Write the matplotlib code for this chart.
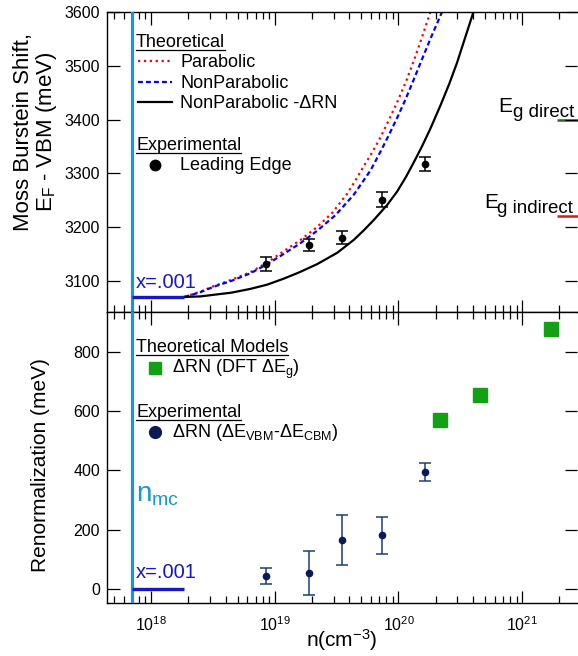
import matplotlib
matplotlib.use('Agg')
import numpy as np
import matplotlib.pyplot as plt
from matplotlib.lines import Line2D
from matplotlib.ticker import NullFormatter

plt.rcParams['font.family'] = ['Liberation Sans', 'DejaVu Sans']
plt.rcParams['mathtext.fontset'] = 'custom'
plt.rcParams['mathtext.rm'] = 'Liberation Sans'
plt.rcParams['mathtext.it'] = 'Liberation Sans:italic'
plt.rcParams['mathtext.bf'] = 'Liberation Sans:bold'

# --- data ---
# theoretical Moss-Burstein curves (log10 n, meV)
logn_par = [18.27, 18.4, 18.506, 18.65, 18.803, 18.938, 19.072, 19.207, 19.342, 19.463,
            19.585, 19.65, 19.719, 19.79, 19.853, 19.92, 19.989, 20.06, 20.13, 20.19, 20.258]
E_par = [3070, 3080, 3090, 3102, 3116, 3134, 3155, 3176, 3200, 3226,
         3262, 3286, 3313, 3340, 3366, 3398, 3432, 3470, 3513, 3553, 3600]

logn_nonpar = [18.27, 18.4, 18.506, 18.65, 18.803, 18.938, 19.072, 19.207, 19.342, 19.49,
               19.638, 19.773, 19.854, 19.92, 19.989, 20.056, 20.123, 20.19, 20.258, 20.352]
E_nonpar = [3070, 3079, 3089, 3100, 3114, 3131, 3150, 3170, 3193, 3222,
            3260, 3305, 3340, 3370, 3403, 3437, 3474, 3512, 3550, 3600]

logn_nonpar_rn = [18.27, 18.4, 18.506, 18.65, 18.803, 18.94, 19.072, 19.2, 19.342, 19.504,
                  19.638, 19.72, 19.8, 19.908, 19.989, 20.06, 20.123, 20.19, 20.258, 20.339,
                  20.41, 20.474, 20.54, 20.595, 20.606]
E_nonpar_rn = [3070, 3071, 3074, 3078, 3085, 3093, 3104, 3116, 3131, 3152,
               3176, 3194, 3213, 3241, 3266, 3293, 3320, 3350, 3383, 3426,
               3466, 3506, 3553, 3592, 3600]

# experimental leading edge
n_exp = [8.5e18, 1.9e19, 3.5e19, 7.4e19, 1.63e20]
E_exp = [3132, 3167, 3180, 3251, 3318]
E_exp_err = [13, 11, 12, 14, 13]

# renormalization
rn_exp = [43, 54, 165, 180, 395]
rn_exp_err = [27, 75, 84, 62, 30]
n_dft = [2.17e20, 4.57e20, 1.7e21]
rn_dft = [568, 654, 876]

n_mc = 7.05e17
n_x001 = 1.86e18
E_x001 = 3070
Eg_direct = 3400
Eg_indirect = 3220
n_eg_start = 1.93e21

yticks_top = [3100, 3200, 3300, 3400, 3500, 3600]
yticks_bot = [0, 200, 400, 600, 800]

W, H = 578, 656
fig = plt.figure(figsize=(W / 100, H / 100), dpi=100)


def fx(px):
    return px / W


def fy(py):
    return 1 - py / H


L = fx(107)
R = fx(576.5)
ax1 = fig.add_axes([L, fy(312), R - L, 300 / H])
ax2 = fig.add_axes([L, fy(603), R - L, 291 / H], sharex=ax1)

ax1.set_xscale('log')
ax1.set_xlim(4.4e17, 2.75e21)
ax1.set_ylim(3042, 3600)
ax1.set_yticks(yticks_top)
ax2.set_ylim(-48, 934)
ax2.set_yticks(yticks_bot)

# top panel
ax1.plot(10 ** np.array(logn_par), E_par, color='red', ls=':', lw=1.6)
ax1.plot(10 ** np.array(logn_nonpar), E_nonpar, color='#0000ff', lw=1.6, dashes=(2.2, 1.4))
ax1.plot(10 ** np.array(logn_nonpar_rn), E_nonpar_rn, color='black', lw=1.6)
ax1.errorbar(n_exp, E_exp, yerr=E_exp_err, fmt='o', color='black', ms=4.5,
             capsize=4.5, elinewidth=1.1, capthick=1.1)
ax1.hlines(E_x001, n_mc, n_x001, color='#1717c8', lw=2.4, zorder=4)
ax1.text(fx(136), fy(288), 'x=.001', transform=fig.transFigure, color='#1717c8',
         fontsize=14.5, va='baseline')
ax1.hlines(Eg_direct, n_eg_start, 3.5e21, color='#1e6e1e', lw=1.8, clip_on=False)
ax1.hlines(Eg_indirect, n_eg_start, 3.5e21, color='#d81c1c', lw=1.8, clip_on=False)

ax1.set_ylabel('Moss Burstein Shift,\n$\\mathregular{E_F}$ - VBM (meV)', fontsize=16,
               linespacing=1.0)
ax1.yaxis.set_label_coords((59 - 107) / 469.5, 0.60)

# bottom panel
ax2.errorbar(n_exp, rn_exp, yerr=rn_exp_err, fmt='o', color='#1f3a80', mfc='#0b1a55',
             mec='#0b1a55', ms=4.5, capsize=4.5, elinewidth=1.1, capthick=1.1)
ax2.plot(n_dft, rn_dft, 's', color='#14a014', ms=10)
ax2.hlines(0, n_mc, n_x001, color='#1717c8', lw=2.4, zorder=4)
ax2.text(fx(136), fy(578), 'x=.001', transform=fig.transFigure, color='#1717c8',
         fontsize=14.5, va='baseline')
ax2.text(fx(136), fy(502), '$\\mathregular{n_{mc}}$', transform=fig.transFigure,
         color='#1b96d2', fontsize=20, va='baseline')
ax2.set_ylabel('Renormalization (meV)', fontsize=15)
ax2.yaxis.set_label_coords((50 - 107) / 469.5, 0.475)
ax2.set_xlabel('n(cm$^{\\mathregular{-3}}$)', fontsize=15)
ax2.xaxis.set_label_coords(0.5, (603 - 627) / 291)

# axis styling, done after all plotting
for ax, yt in ((ax1, yticks_top), (ax2, yticks_bot)):
    ax.axvline(n_mc, color='#1b96d2', lw=2.3, zorder=3)
    ax.xaxis.set_ticks_position('both')
    ax.yaxis.set_ticks_position('both')
    ax.tick_params(which='both', direction='in', width=0.9)
    ax.tick_params(which='major', length=9, labelsize=11.5)
    ax.tick_params(which='minor', length=5)
    ax.tick_params(axis='x', which='major', pad=9)
    ax.tick_params(axis='y', which='major', pad=5, left=True, right=True)
    for s in ax.spines.values():
        s.set_linewidth(1.0)
    ax.spines['right'].set_color('none')
    ax.xaxis.set_minor_formatter(NullFormatter())
    # mirrored y ticks on the right side
    axr = ax.twinx()
    axr.set_ylim(ax.get_ylim())
    axr.set_yticks(yt)
    axr.tick_params(axis='y', direction='in', length=9, width=0.9, labelright=False)
    axr.tick_params(axis='x', which='both', bottom=False, top=False,
                    labelbottom=False, labeltop=False)
    for s in axr.spines.values():
        s.set_visible(False)
ax1.tick_params(axis='x', labelbottom=False)

# legends drawn by hand
heads = []
heads.append((fig.text(fx(136), fy(47), 'Theoretical', fontsize=13, va='baseline'), 50))
heads.append((fig.text(fx(136), fy(150), 'Experimental', fontsize=13, va='baseline'), 153))
heads.append((fig.text(fx(136), fy(351.7), 'Theoretical Models', fontsize=13, va='baseline'), 355))
heads.append((fig.text(fx(136), fy(416.7), 'Experimental', fontsize=13, va='baseline'), 420))

fig.add_artist(Line2D([fx(138), fx(172)], [fy(61), fy(61)], color='red', ls=':', lw=1.6,
                      transform=fig.transFigure))
fig.add_artist(Line2D([fx(138), fx(172)], [fy(82), fy(82)], color='#0000ff', lw=1.6,
                      dashes=(2.2, 1.4), transform=fig.transFigure))
fig.add_artist(Line2D([fx(138), fx(172)], [fy(102), fy(102)], color='black', lw=1.6,
                      transform=fig.transFigure))
fig.add_artist(Line2D([fx(155)], [fy(165)], marker='o', color='black', ms=7.5,
                      transform=fig.transFigure))
fig.text(fx(180), fy(67), 'Parabolic', fontsize=13, va='baseline')
fig.text(fx(180), fy(88), 'NonParabolic', fontsize=13, va='baseline')
fig.text(fx(180), fy(108), 'NonParabolic -ΔRN', fontsize=13, va='baseline')
fig.text(fx(180), fy(170), 'Leading Edge', fontsize=13, va='baseline')

fig.add_artist(Line2D([fx(155)], [fy(367.7)], marker='s', color='#14a014', ms=8,
                      transform=fig.transFigure))
fig.add_artist(Line2D([fx(155)], [fy(432.3)], marker='o', color='#0b1a55', ms=8.5,
                      transform=fig.transFigure))
fig.text(fx(172), fy(372.7), 'ΔRN (DFT Δ$\\mathregular{E_g}$)', fontsize=13, va='baseline')
fig.text(fx(172), fy(437.3), 'ΔRN (Δ$\\mathregular{E_{VBM}}$-Δ$\\mathregular{E_{CBM}}$)',
         fontsize=13, va='baseline')

# band gap labels
fig.text(fx(498), fy(111.7), 'E', fontsize=15, va='baseline')
fig.text(fx(513), fy(117), 'g direct', fontsize=13.5, va='baseline')
fig.text(fx(484), fy(208), 'E', fontsize=15, va='baseline')
fig.text(fx(497), fy(212.7), 'g indirect', fontsize=13.5, va='baseline')

# underline the legend headings
fig.canvas.draw()
r = fig.canvas.get_renderer()
for t, yl in heads:
    bb = t.get_window_extent(r)
    fig.add_artist(Line2D([bb.x0 / W, bb.x1 / W], [fy(yl), fy(yl)], color='black', lw=0.9,
                          transform=fig.transFigure))

fig.savefig('out.png', dpi=100)
